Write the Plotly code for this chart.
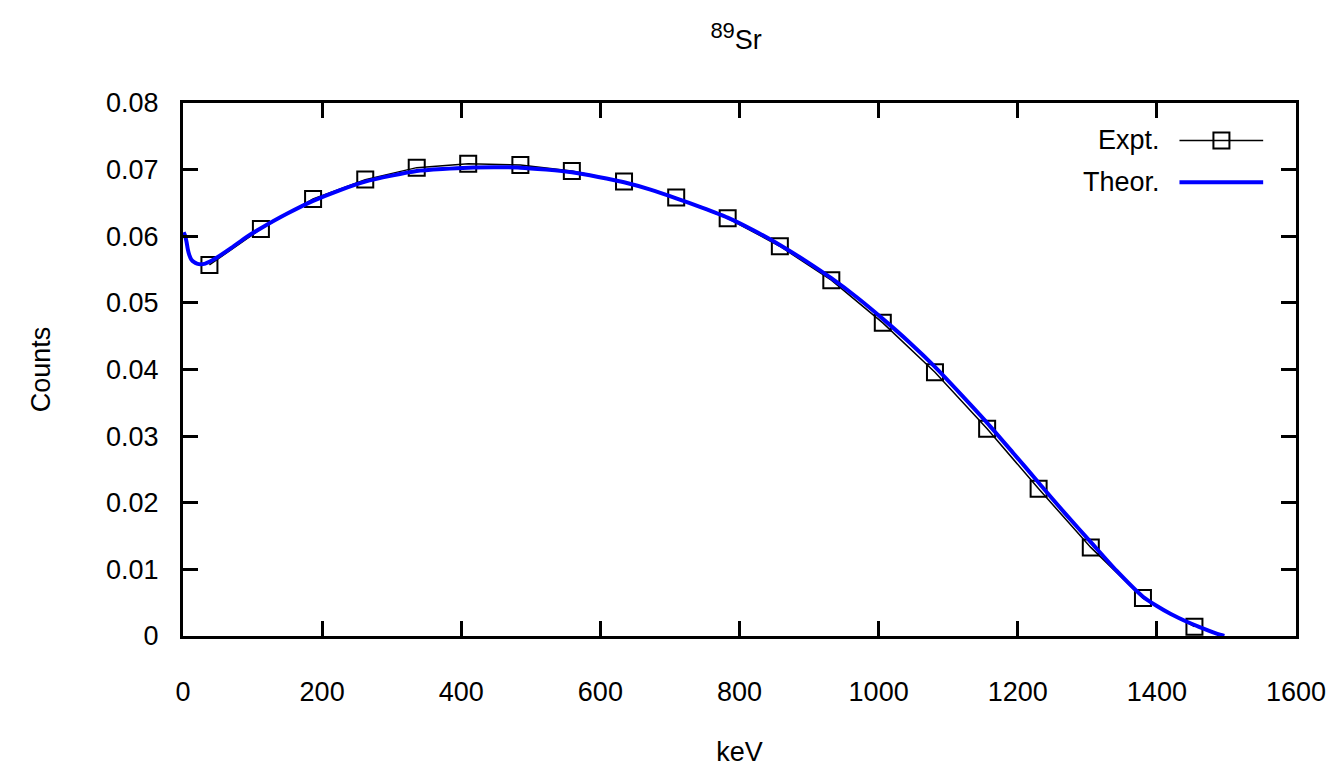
import plotly.graph_objects as go

# experimental spectrum (markers joined by a thin line)
expt_kev = [38, 112, 187, 262, 336, 410, 485, 559, 634, 709,
            783, 858, 932, 1006, 1081, 1156, 1230, 1305, 1380, 1454]
expt_counts = [0.0557, 0.0611, 0.0656, 0.0685, 0.0703, 0.0709, 0.0707, 0.0698, 0.0682, 0.0658,
               0.0627, 0.0585, 0.0534, 0.0470, 0.0396, 0.0311, 0.0221, 0.0133, 0.0057, 0.0014]

# theoretical curve
theor_kev = [1, 3, 5, 7, 9, 12, 16, 20, 25, 32, 44, 70, 90, 112, 150, 187, 225, 262, 300, 336,
             373, 410, 447, 485, 522, 559, 597, 634, 672, 709, 746, 783, 820, 858, 895, 932,
             969, 1006, 1044, 1081, 1119, 1156, 1194, 1231, 1268, 1305, 1342, 1380, 1400,
             1420, 1444, 1467, 1482, 1492, 1497]
theor_counts = [0.0606, 0.0601, 0.0592, 0.0580, 0.0572, 0.0565, 0.0561, 0.0559, 0.0558, 0.0559,
                0.0565, 0.0583, 0.0598, 0.0612, 0.0634, 0.0653, 0.0669, 0.0682, 0.0691, 0.0698,
                0.0701, 0.0703, 0.07035, 0.0703, 0.0700, 0.0696, 0.0689, 0.0681, 0.0670, 0.0657,
                0.0643, 0.0628, 0.0609, 0.0587, 0.0563, 0.0537, 0.0508, 0.0476, 0.0441, 0.0404,
                0.0362, 0.0320, 0.0274, 0.0229, 0.0184, 0.0141, 0.0098, 0.0059, 0.0045,
                0.0033, 0.0021, 0.0011, 0.0005, 0.00015, 0.0]

x_ticks = [0, 200, 400, 600, 800, 1000, 1200, 1400, 1600]

FONT = "Liberation Sans, Arial, sans-serif"

fig = go.Figure()
fig.add_trace(go.Scatter(
    x=expt_kev, y=expt_counts, mode="lines+markers", name="Expt.",
    line=dict(color="black", width=1.5),
    marker=dict(symbol="square-open", size=16, color="black", line=dict(width=2)),
    showlegend=False,
))
fig.add_trace(go.Scatter(
    x=theor_kev, y=theor_counts, mode="lines", name="Theor.",
    line=dict(color="#0000ff", width=4, shape="spline", smoothing=0.6),
    showlegend=False,
))

axis_common = dict(
    showline=True, linecolor="black", linewidth=3, mirror="allticks",
    ticks="inside", ticklen=15, tickwidth=3, tickcolor="black",
    showgrid=False, zeroline=False,
    tickfont=dict(family=FONT, size=27, color="black"),
)

fig.update_xaxes(range=[0, 1600], tickvals=x_ticks, ticklabelstandoff=30,
                 title=dict(text="keV", font=dict(family=FONT, size=27, color="black"), standoff=36),
                 **axis_common)
fig.update_yaxes(range=[0, 0.08], dtick=0.01, tick0=0, ticklabelstandoff=16,
                 title=dict(text="Counts", font=dict(family=FONT, size=27, color="black"), standoff=48),
                 **axis_common)

# hand-made legend, text on the left of the sample like gnuplot
leg_x_text = 0.8797
leg_x0, leg_x1, leg_xm = 0.8953, 0.9705, 0.9330
leg_y1, leg_y2 = 0.9297, 0.8515
fig.add_annotation(x=leg_x_text, y=leg_y1, xref="paper", yref="paper", text="Expt.",
                   showarrow=False, xanchor="right", yanchor="middle",
                   font=dict(family=FONT, size=27, color="black"))
fig.add_annotation(x=leg_x_text, y=leg_y2, xref="paper", yref="paper", text="Theor.",
                   showarrow=False, xanchor="right", yanchor="middle",
                   font=dict(family=FONT, size=27, color="black"))
fig.add_shape(type="line", xref="paper", yref="paper", x0=leg_x0, x1=leg_x1, y0=leg_y1, y1=leg_y1,
              line=dict(color="black", width=1.5))
fig.add_shape(type="rect", xref="paper", yref="paper", xsizemode="pixel", ysizemode="pixel",
              xanchor=leg_xm, yanchor=leg_y1, x0=-8, x1=8, y0=-8, y1=8,
              line=dict(color="black", width=2), fillcolor="rgba(0,0,0,0)")
fig.add_shape(type="line", xref="paper", yref="paper", x0=leg_x0, x1=leg_x1, y0=leg_y2, y1=leg_y2,
              line=dict(color="#0000ff", width=4))

# the page body adds an 8px offset, margins compensate for it
fig.update_layout(
    width=1336, height=778,
    margin=dict(l=175, r=48, t=95, b=150),
    paper_bgcolor="white", plot_bgcolor="white",
    font=dict(family=FONT, size=27, color="black"),
    title=dict(text="<sup><span style='font-size:22px'>89</span></sup>Sr",
               x=0.545, xanchor="center", y=0.959, yanchor="middle",
               font=dict(family=FONT, size=27, color="black")),
)

fig.write_html("out.html")
